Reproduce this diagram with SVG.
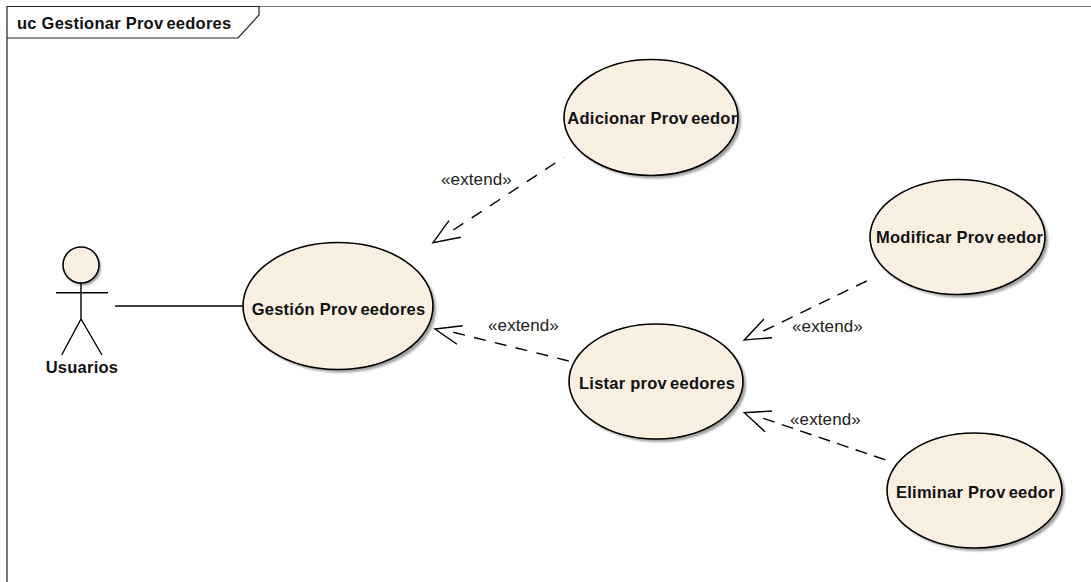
<svg xmlns="http://www.w3.org/2000/svg" width="1091" height="582" viewBox="0 0 1091 582">
<defs>
<filter id="sh" x="-10%" y="-10%" width="125%" height="125%"><feGaussianBlur stdDeviation="1.2"/></filter>
<style>
.uc{fill:#f9f0e2;stroke:#000;stroke-width:1.6}
.shadow{fill:#a0a0a0;filter:url(#sh)}
.b{font-family:"Liberation Sans",Arial,sans-serif;font-size:16.500px;letter-spacing:.25px;font-weight:bold;fill:#111}
.r{font-family:"Liberation Sans",Arial,sans-serif;font-size:17px;letter-spacing:.12px;fill:#222}
.ln{fill:none;stroke:#000;stroke-width:1.4}
</style>
</defs>
<rect width="1091" height="582" fill="#fff"/>
<g id="frame">
<path d="M259 6.500H1091" fill="none" stroke="#777" stroke-width="1.2"/>
<path d="M7 582V6.500H259V15L238 38H7" fill="none" stroke="#222" stroke-width="1.2"/>
<text class="b" x="17" y="29">uc Gestionar Prov<tspan dx="3">eedores</tspan></text>
</g>
<g id="connectors">
<path class="ln" d="M115 306H243"/>
<path class="ln" stroke-dasharray="12 10" d="M453.300 230L563.800 157.400"/>
<path class="ln" d="M449 220.700L433 242.700L460.700 237.300"/>
<path class="ln" stroke-dasharray="12 8.600" d="M763.300 331L866.700 281"/>
<path class="ln" d="M764 319L744.300 340L772 337.700"/>
<path class="ln" stroke-dasharray="12 7.500" d="M763.300 418.300L885.700 460"/>
<path class="ln" d="M772 411L744.300 412.700L765 431.700"/>
<path class="ln" stroke-dasharray="12 9.400" d="M453.300 332.300L569 361"/>
<path class="ln" d="M462.700 325.700L435 329L457 344.300"/>
<text class="r" x="441" y="185">«extend»</text>
<text class="r" x="488" y="331">«extend»</text>
<text class="r" x="792" y="332">«extend»</text>
<text class="r" x="790" y="425">«extend»</text>
</g>
<g id="actor-usuarios">
<circle class="shadow" cx="83" cy="267.500" r="18"/>
<circle class="uc" cx="81" cy="265" r="18"/>
<path class="ln" d="M56 292.700H108M81 283V319M81 319L61.700 355M81 319L102 355"/>
<text class="b" x="45.700" y="372.500">Usuarios</text>
</g>
<g id="uc-gestion">
<ellipse class="shadow" cx="341" cy="309" rx="95" ry="63.500"/>
<ellipse class="uc" cx="338" cy="306" rx="95" ry="63.500"/>
<text class="b" x="251.700" y="314.500">Gestión Prov<tspan dx="3">eedores</tspan></text>
</g>
<g id="uc-adicionar">
<ellipse class="shadow" cx="654" cy="120.500" rx="87" ry="58"/>
<ellipse class="uc" cx="651" cy="117.500" rx="87" ry="58"/>
<text class="b" x="567.300" y="123.500">Adicionar Prov<tspan dx="3">eedor</tspan></text>
</g>
<g id="uc-modificar">
<ellipse class="shadow" cx="960.500" cy="240" rx="87.500" ry="57.500"/>
<ellipse class="uc" cx="957.500" cy="237" rx="87.500" ry="57.500"/>
<text class="b" x="876" y="243">Modificar Prov<tspan dx="3">eedor</tspan></text>
</g>
<g id="uc-listar">
<ellipse class="shadow" cx="659" cy="384.500" rx="87" ry="57.500"/>
<ellipse class="uc" cx="656" cy="381.500" rx="87" ry="57.500"/>
<text class="b" x="579" y="388.500">Listar prov<tspan dx="3">eedores</tspan></text>
</g>
<g id="uc-eliminar">
<ellipse class="shadow" cx="977.500" cy="493.500" rx="87.500" ry="57.500"/>
<ellipse class="uc" cx="974.500" cy="490.500" rx="87.500" ry="57.500"/>
<text class="b" x="896" y="497.500">Eliminar Prov<tspan dx="3">eedor</tspan></text>
</g>
</svg>
